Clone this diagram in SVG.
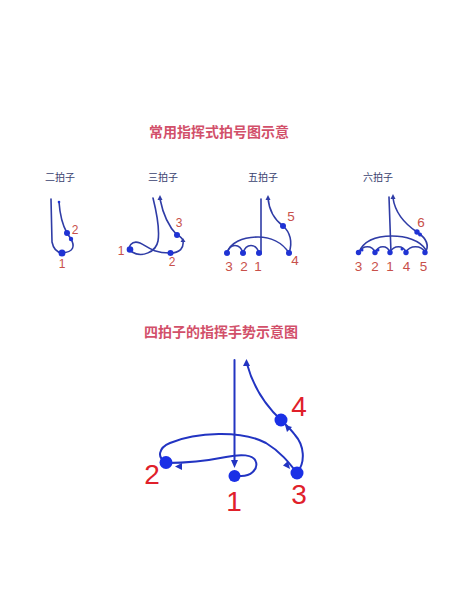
<svg xmlns="http://www.w3.org/2000/svg" width="460" height="600" viewBox="0 0 460 600">
<style>
.title{font-family:"Noto Sans CJK SC","Noto Sans",sans-serif;font-size:14px;fill:#d2506a;font-weight:bold;text-anchor:middle}
.sub{font-family:"Noto Sans CJK SC","Noto Sans",sans-serif;font-size:10px;fill:#3a4270;text-anchor:middle}
.sl{fill:none;stroke:#2f3ca6;stroke-width:1.6;stroke-linecap:round}
.bl{fill:none;stroke:#2234c2;stroke-width:2;stroke-linecap:round}
.sd{fill:#1f33d4}
.bd{fill:#1a30e6}
.snum{font-family:"Liberation Sans",Arial,sans-serif;font-size:12px;fill:#c8504a;text-anchor:middle}
.snum2{font-family:"Liberation Sans",Arial,sans-serif;font-size:13.5px;fill:#c8504a;text-anchor:middle}
.bnum{font-family:"Liberation Sans",Arial,sans-serif;font-size:28px;fill:#e0202a;text-anchor:middle}
.ah{fill:#2234c2}
.sah{fill:#2f3ca6}
</style>
<rect width="460" height="600" fill="#ffffff"/>
<text class="title" x="219" y="137">常用指挥式拍号图示意</text>
<text class="sub" x="60" y="181">二拍子</text>
<text class="sub" x="163" y="181">三拍子</text>
<text class="sub" x="263" y="181">五拍子</text>
<text class="sub" x="378" y="181">六拍子</text>

<g id="two-beat">
<g id="two-connectors">
<path class="sl" d="M51,199 L52,242 Q54,252 62,253"/>
<path class="sl" d="M59,202 C60,216 63,226 67,233 L71,239 C75,246 74,252 62,253"/>
</g>
<circle class="sd" cx="59" cy="202" r="1.3"/>
<g id="two-b2"><circle class="sd" cx="67" cy="233" r="3"/><circle class="sd" cx="71" cy="239" r="2.2"/><text class="snum" x="75" y="234">2</text></g>
<g id="two-b1"><circle class="sd" cx="62" cy="253" r="3.5"/><text class="snum" x="62" y="268">1</text></g>
</g>

<g id="three-beat">
<g id="three-connectors">
<path class="sl" d="M153,198 C157,214 160,229 158,241 C156,252 142,258 132,252 C126,247 132,240 140,243 C147,246 152,253 170,253 C180,253 184,248 183,241 C182,237 179,236 177,235 C168,226 163,214 160,199"/>
<polygon class="sah" points="160,195 157.5,200 162.5,200"/>
<polygon class="sah" points="183,238 180.5,242 185.5,242"/>
</g>
<g id="three-b1"><circle class="sd" cx="130" cy="249.5" r="3.3"/><text class="snum" x="121" y="255">1</text></g>
<g id="three-b2"><circle class="sd" cx="170.5" cy="253" r="3"/><text class="snum" x="172" y="266">2</text></g>
<g id="three-b3"><circle class="sd" cx="177" cy="235" r="3"/><text class="snum" x="179" y="227">3</text></g>
</g>

<g id="five-beat">
<g id="five-connectors">
<path class="sl" d="M261,199 L261,254"/>
<path class="sl" d="M268,198 C269,210 275,220 283,226 C290,232 293,242 289,253"/>
<path class="sl" d="M289,253 C282,242 270,237 258,237 C242,237 230,243 227,253"/>
<path class="sl" d="M227,253 C230,243 240,243 243,253 C246,243 256,243 259,253"/>
<polygon class="sah" points="268,195 265.5,200 270.5,200"/>
</g>
<g id="five-b3"><circle class="sd" cx="227" cy="253" r="3"/><text class="snum2" x="229" y="271">3</text></g>
<g id="five-b2"><circle class="sd" cx="243" cy="253" r="3"/><text class="snum2" x="244" y="271">2</text></g>
<g id="five-b1"><circle class="sd" cx="259" cy="253" r="3"/><text class="snum2" x="258" y="271">1</text></g>
<g id="five-b4"><circle class="sd" cx="289" cy="253" r="3"/><text class="snum2" x="295" y="265">4</text></g>
<g id="five-b5"><circle class="sd" cx="283" cy="226" r="3"/><text class="snum2" x="291" y="221">5</text></g>
</g>

<g id="six-beat">
<g id="six-connectors">
<path class="sl" d="M389,197 L391,253"/>
<path class="sl" d="M393,198 C395,212 405,224 417,232 C426,238 430,245 425,253"/>
<path class="sl" d="M359,252 C365,238 380,236 392,236 C405,236 420,240 426,250"/>
<path class="sl" d="M359,252 C363,245 372,245 375,252 C379,245 387,245 390,252 C394,245 403,245 406,252 C410,245 421,245 425,252"/>
<polygon class="sah" points="393,194 390.5,199 395.5,199"/>
</g>
<g id="six-b3"><circle class="sd" cx="358.5" cy="252.5" r="2.7"/><circle class="sd" cx="362" cy="250" r="1.5"/><text class="snum2" x="358.5" y="271">3</text></g>
<g id="six-b2"><circle class="sd" cx="375" cy="252.5" r="2.7"/><circle class="sd" cx="378" cy="250" r="1.5"/><text class="snum2" x="375" y="271">2</text></g>
<g id="six-b1"><circle class="sd" cx="390" cy="252.5" r="2.7"/><text class="snum2" x="390" y="271">1</text></g>
<g id="six-b4"><circle class="sd" cx="406" cy="252.5" r="2.7"/><circle class="sd" cx="402" cy="249" r="1.5"/><text class="snum2" x="406.5" y="271">4</text></g>
<g id="six-b5"><circle class="sd" cx="425" cy="252.5" r="2.7"/><text class="snum2" x="423.5" y="271">5</text></g>
<g id="six-b6"><circle class="sd" cx="417" cy="232" r="2.7"/><circle class="sd" cx="420" cy="234.5" r="2"/><text class="snum2" x="421" y="227">6</text></g>
</g>

<text class="title" x="221" y="337">四拍子的指挥手势示意图</text>

<g id="four-beat">
<g id="four-connectors">
<path class="bl" d="M234.5,360 L234.5,462"/>
<polygon class="ah" points="234.5,468 231,460 238,460"/>
<path class="bl" d="M239,476 C251,477 258,469 256,462 C254,454 240,454 226,457 C206,461 186,463 166,463"/>
<polygon class="ah" points="175,466.5 182,463 182,470"/>
<path class="bl" d="M166,462 C157,458 158,448 170,443 C196,432 242,430 266,443 C281,452 290,464 297,473"/>
<polygon class="ah" points="290,469 283,465.5 288,461"/>
<path class="bl" d="M297,473 C306,462 304,445 295,435 C290,428 285,424 281,420 C266,406 253,386 247,364"/>
<polygon class="ah" points="285,425 292,427 287,432"/>
<polygon class="ah" points="246.5,359 243,366 250,366"/>
</g>
<g id="four-b1"><circle class="bd" cx="234.5" cy="476" r="6"/><text class="bnum" x="234" y="511">1</text></g>
<g id="four-b2"><circle class="bd" cx="166" cy="462.5" r="6.5"/><text class="bnum" x="152" y="484">2</text></g>
<g id="four-b3"><circle class="bd" cx="297" cy="473" r="6.5"/><text class="bnum" x="299" y="504">3</text></g>
<g id="four-b4"><circle class="bd" cx="281" cy="420" r="6.5"/><text class="bnum" x="299" y="416">4</text></g>
</g>
</svg>
